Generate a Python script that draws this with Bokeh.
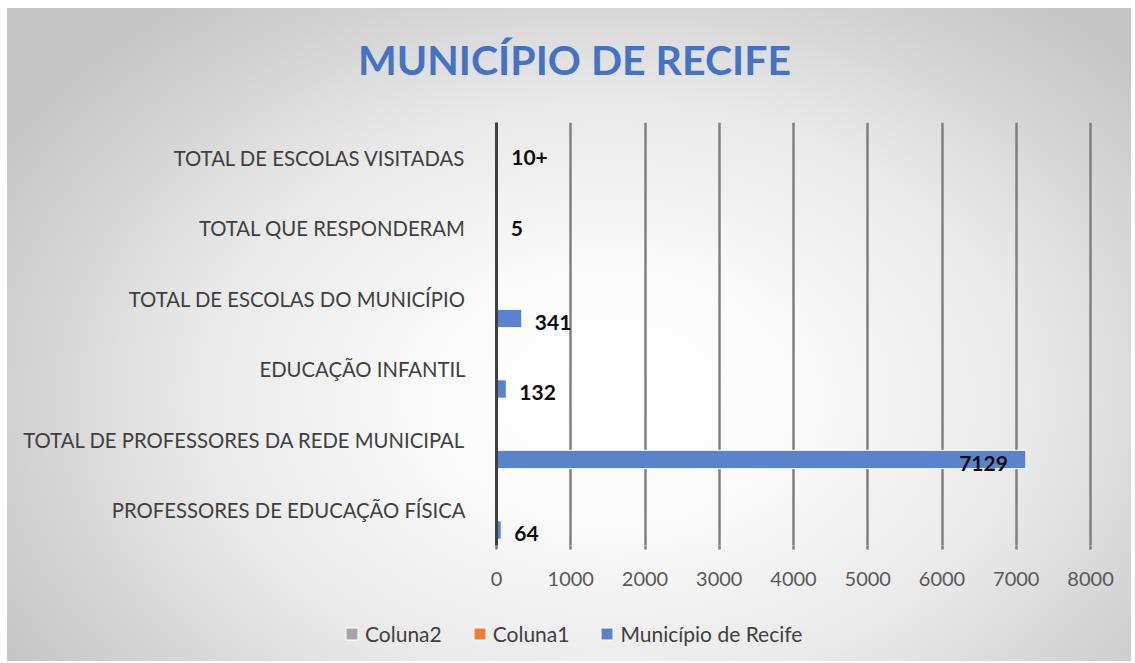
from bokeh.plotting import figure
from bokeh.layouts import column
from bokeh.models import ColumnDataSource, Range1d, FactorRange, Legend, LegendItem, FixedTicker, Label
from bokeh.transform import dodge
from bokeh.embed import file_html
from bokeh.resources import INLINE

# ---- data ----
categories = [
    "PROFESSORES DE EDUCAÇÃO FÍSICA",
    "TOTAL DE PROFESSORES DA REDE MUNICIPAL",
    "EDUCAÇÃO INFANTIL",
    "TOTAL DE ESCOLAS DO MUNICÍPIO",
    "TOTAL QUE RESPONDERAM",
    "TOTAL DE ESCOLAS VISITADAS",
]
municipio = [64, 7129, 132, 341, None, None]
coluna1 = [None, None, None, None, 5, 10]
coluna1_labels = ["", "", "", "", "5", "10+"]
coluna2 = [None, None, None, None, None, None]
x_ticks = [0, 1000, 2000, 3000, 4000, 5000, 6000, 7000, 8000]

title = "MUNICÍPIO DE RECIFE"
series_names = ["Coluna2", "Coluna1", "Município de Recife"]
series_colors = ["#a5a5a5", "#ed7d31", "#5b83cb"]

FONT = "Lato"
NAN = float("nan")
W = 1135
TITLE_H, MAIN_H, LEG_H = 122, 481, 60


def strip(height):
    f = figure(width=W, height=height, x_range=Range1d(0, W), y_range=Range1d(0, height),
               output_backend="svg", toolbar_location=None,
               x_axis_location=None, y_axis_location=None,
               min_border_left=0, min_border_right=0, min_border_top=0, min_border_bottom=0)
    f.frame_align = False
    f.background_fill_alpha = 0
    f.border_fill_alpha = 0
    f.outline_line_color = None
    f.grid.grid_line_color = None
    return f

# ---- title strip ----
tf = strip(TITLE_H)
tf.add_layout(Label(x=574, y=63, text=title, text_align="center", text_baseline="alphabetic",
                    text_font=FONT, text_font_style="bold", text_font_size="41px",
                    text_color="#4472c4"))

# ---- main chart ----
p = figure(
    width=W, height=MAIN_H,
    y_range=FactorRange(*categories),
    x_range=Range1d(0, 8040),
    output_backend="svg", toolbar_location=None,
    min_border_left=496, min_border_right=42, min_border_top=0, min_border_bottom=58,
)
p.background_fill_alpha = 0
p.border_fill_alpha = 0
p.outline_line_color = None


def clean(vals):
    return [v if v is not None else NAN for v in vals]

src_m = ColumnDataSource(dict(cat=categories, v=clean(municipio)))
src_c1 = ColumnDataSource(dict(cat=categories, v=clean(coluna1)))
src_c2 = ColumnDataSource(dict(cat=categories, v=clean(coluna2)))

bh = 0.26
p.hbar(y=dodge("cat", 0.28, range=p.y_range), right="v", left=0, height=bh, source=src_c2,
       fill_color=series_colors[0], line_color=None)
p.hbar(y=dodge("cat", 0.0, range=p.y_range), right="v", left=0, height=bh, source=src_c1,
       fill_color=series_colors[1], line_color=None)
p.hbar(y=dodge("cat", -0.28, range=p.y_range), right="v", left=0, height=bh, source=src_m,
       fill_color=series_colors[2], line_color="white", line_width=1)

# data labels for Município
out_cat, out_v, out_t, in_cat, in_v, in_t = [], [], [], [], [], []
for c, v in zip(categories, municipio):
    if v is None:
        continue
    if v > 6000:
        in_cat.append(c); in_v.append(v); in_t.append(str(v))
    else:
        out_cat.append(c); out_v.append(v); out_t.append(str(v))
lab_style = dict(text_baseline="middle", text_font=dict(value=FONT), text_font_style="bold",
                 text_font_size="21px", text_color="#0d0d0d")
p.text(x="v", y=dodge("cat", -0.28, range=p.y_range), text="t",
       source=ColumnDataSource(dict(cat=out_cat, v=out_v, t=out_t)),
       x_offset=13, y_offset=4, text_align="left", **lab_style)
p.text(x="v", y=dodge("cat", -0.28, range=p.y_range), text="t",
       source=ColumnDataSource(dict(cat=in_cat, v=in_v, t=in_t)),
       x_offset=-18, y_offset=4, text_align="right", **lab_style)

# data labels for Coluna1
c1_cat = [c for c, t in zip(categories, coluna1_labels) if t]
c1_v = [v for v, t in zip(coluna1, coluna1_labels) if t]
c1_t = [t for t in coluna1_labels if t]
p.text(x="v", y="cat", text="t",
       source=ColumnDataSource(dict(cat=c1_cat, v=c1_v, t=c1_t)),
       x_offset=14, y_offset=0, text_align="left", **lab_style)

# axes
xa = p.xaxis[0]
xa.ticker = FixedTicker(ticks=x_ticks)
xa.axis_line_color = None
xa.major_tick_in = 0
xa.major_tick_out = 4
xa.major_tick_line_color = "#808080"
xa.major_tick_line_width = 2.5
xa.minor_tick_line_color = None
xa.major_label_text_font = FONT
xa.major_label_text_font_size = "20px"
xa.major_label_text_color = "#595959"
xa.major_label_standoff = 22

ya = p.yaxis[0]
ya.axis_line_color = "#404040"
ya.axis_line_width = 3
ya.major_tick_line_color = None
ya.minor_tick_line_color = None
ya.major_label_text_font = FONT
ya.major_label_text_font_size = "20.3px"
ya.major_label_text_color = "#404040"
ya.major_label_standoff = 25

p.xgrid.grid_line_color = "#808080"
p.xgrid.grid_line_width = 2.5
p.xgrid.ticker = FixedTicker(ticks=x_ticks)
p.ygrid.grid_line_color = None

# ---- legend strip ----
lp = strip(LEG_H)
lr = [lp.hbar(y=[NAN], right=[NAN], left=[NAN], height=1, fill_color=c, line_color="white", line_width=1)
      for c in series_colors]
legend = Legend(
    items=[LegendItem(label=name, renderers=[r]) for name, r in zip(series_names, lr)],
    orientation="horizontal",
    location=(344, 17),
    background_fill_alpha=0,
    border_line_color=None,
    glyph_width=15, glyph_height=15,
    label_text_font=FONT, label_text_font_size="21px", label_text_color="#404040",
    spacing=30, label_standoff=6, padding=0, margin=0,
)
lp.add_layout(legend, "center")

layout = column(
    tf, p, lp, spacing=0,
    styles={
        "background": "radial-gradient(ellipse 62% 75% at 54% 60%, #ffffff 0%, #fbfbfb 25%, #e9e9e9 60%, #d2d2d2 85%, #c6c6c6 100%)",
        "box-shadow": "inset 7px 8px 0 0 #ffffff, inset -4px -2px 0 0 #ffffff",
    },
)

open("out.html", "w").write(file_html(layout, INLINE))
